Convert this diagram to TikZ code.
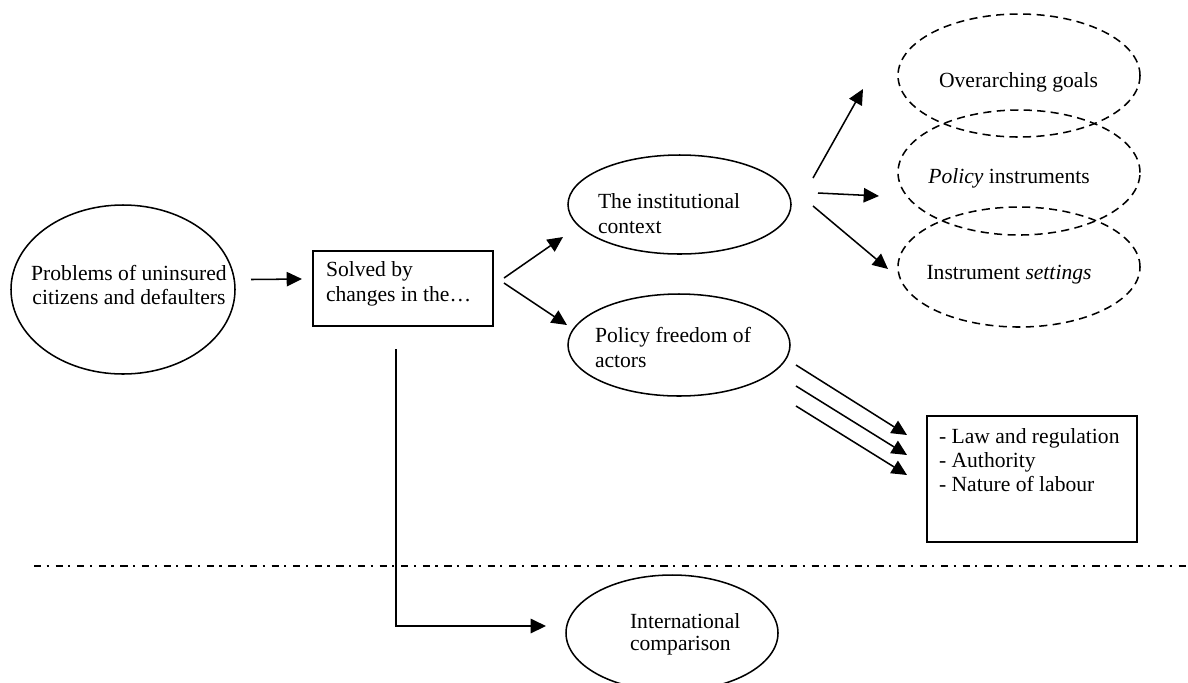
\documentclass[tikz,border=0pt]{standalone}
\usepackage{fontspec}
\setmainfont{Liberation Serif}
\usetikzlibrary{shapes.geometric,arrows.meta,calc}

% one drawing unit = one pixel of a 1188 x 682 canvas
\newcommand\pxu{0.5556pt}

\begin{document}
\begin{tikzpicture}[x=0.5556pt,y=-0.5556pt,
  every node/.style={font=\fontsize{12}{13.8}\selectfont, inner sep=0pt, outer sep=0pt},
  oval/.style={draw, ellipse, line width=0.85pt},
  dashoval/.style={draw, ellipse, line width=0.85pt, dash pattern=on 4.5pt off 3pt},
  boxnode/.style={draw, rectangle, line width=0.85pt},
  txt/.style={align=left},
  arr/.style={line width=0.85pt, -{Triangle[length=8.5pt,width=8pt]}},
  separator/.style={line width=0.9pt, dash pattern=on 4pt off 3pt on 1.2pt off 3.8pt},
]
\useasboundingbox (0,0) rectangle (1188,682);
\clip (0,0) rectangle (1188,682);

% ---- main nodes ----
\node[oval, minimum width={224*\pxu}, minimum height={169*\pxu}] (prob) at (123,289.5) {};
\node[align=center] (probtxt) at (129,285) {Problems of uninsured\\citizens and defaulters};

\node[boxnode, minimum width={180*\pxu}, minimum height={75*\pxu}] (box) at (403,288.5) {};
\node[txt, anchor=west] (boxtxt) at (326,284) {Solved by\\changes in the…};

\node[oval, minimum width={223*\pxu}, minimum height={99*\pxu}] (inst) at (679.5,204.5) {};
\node[txt, anchor=west] (insttxt) at (598,213.5) {The institutional\\context};

\node[oval, minimum width={222*\pxu}, minimum height={102*\pxu}] (pol) at (679,345) {};
\node[txt, anchor=west] (poltxt) at (595,347.5) {Policy freedom of\\actors};

% ---- dashed ellipses: three levels of the institutional context ----
\node[dashoval, minimum width={242*\pxu}, minimum height={123*\pxu}] (goals) at (1019,75.5) {};
\node (goalstxt) at (1018.5,82) {Overarching goals};

\node[dashoval, minimum width={242*\pxu}, minimum height={125*\pxu}] (instr) at (1019,172.5) {};
\node (instrtxt) at (1009,178) {\textit{Policy} instruments};

\node[dashoval, minimum width={242*\pxu}, minimum height={120*\pxu}] (sett) at (1019,267) {};
\node (setttxt) at (1009,275) {Instrument \textit{settings}};

% ---- aspects of policy freedom ----
\node[boxnode, minimum width={210*\pxu}, minimum height={126*\pxu}] (law) at (1032,479) {};
\node[txt, anchor=west, font=\fontsize{12}{13.4}\selectfont] (lawtxt) at (939,460)
  {- Law and regulation\\- Authority\\- Nature of labour};

% ---- comparison below the separator ----
\node[oval, minimum width={212*\pxu}, minimum height={116*\pxu}] (intl) at (672,633) {};
\node[txt, anchor=west, font=\fontsize{12}{12}\selectfont] (intltxt) at (630,634)
  {International\\comparison};

% ---- separator line ----
\coordinate (sepL) at (34,566);
\coordinate (sepR) at (1188,566);
\draw[separator] (sepL) -- (sepR);

% ---- connectors ----
\draw[arr] ($(prob.east)+(16,-10)$) -- ($(box.west)+(-11,-9.5)$);
\draw[arr] ($(box.east)+(11,-10.5)$) -- ($(inst.west)+(-5,32.5)$);
\draw[arr] ($(box.east)+(11,-5.5)$) -- ($(pol.west)+(-1,-20)$);

\draw[arr] ($(inst.east)+(22,-26.5)$) -- ($(goals.west)+(-35,13.5)$);
\draw[arr] ($(inst.east)+(27,-11.5)$) -- ($(instr.west)+(-19,23.5)$);
\draw[arr] ($(inst.east)+(22,1.5)$) -- ($(sett.west)+(-10,2)$);

\draw[arr] ($(pol.east)+(6,20)$) -- ($(law.west)+(-20,-44)$);
\draw[arr] ($(pol.east)+(6,41)$) -- ($(law.west)+(-20,-24)$);
\draw[arr] ($(pol.east)+(6,61)$) -- ($(law.west)+(-20,-4)$);

\draw[arr] ($(box.south)+(-7,23)$) |- ($(intl.west)+(-20,-7)$);
\end{tikzpicture}
\end{document}
